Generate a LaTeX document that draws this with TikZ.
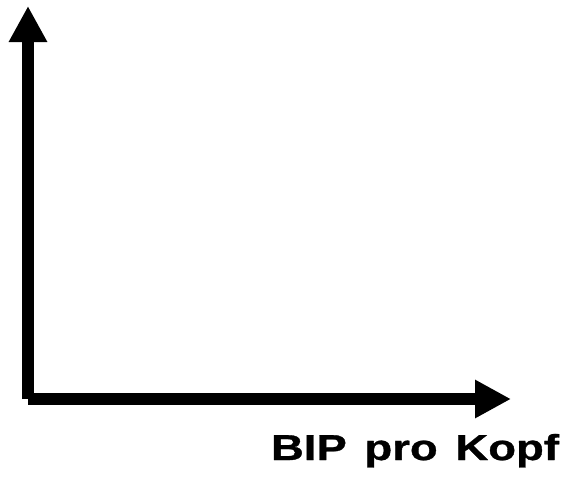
\documentclass[tikz,border=0pt]{standalone}
\usepackage{fontspec}
\setmainfont{Liberation Sans}
\newfontfamily\axisfont{Liberation Sans Bold}[FakeBold=0.8]
\usetikzlibrary{arrows.meta}
\begin{document}
\begin{tikzpicture}[x=1pt, y=-1pt, line width=12pt, >={Triangle[length=36pt,width=36pt]}, font=\fontsize{36}{40}\axisfont]
	\useasboundingbox (0,0) rectangle (572,477);
	\coordinate (O) at (28,399);
	\coordinate (xend) at (511,399);
	\coordinate (yend) at (28,6);
	\draw[->] (O)--(yend);
	\draw[->] (O)--(xend);
	\node[anchor=base east, inner sep=0pt] (xlabel) at (565,460) {\resizebox{288pt}{\height}{\spaceskip=14pt BIP pro Kopf}};
	
\end{tikzpicture}
\end{document}
